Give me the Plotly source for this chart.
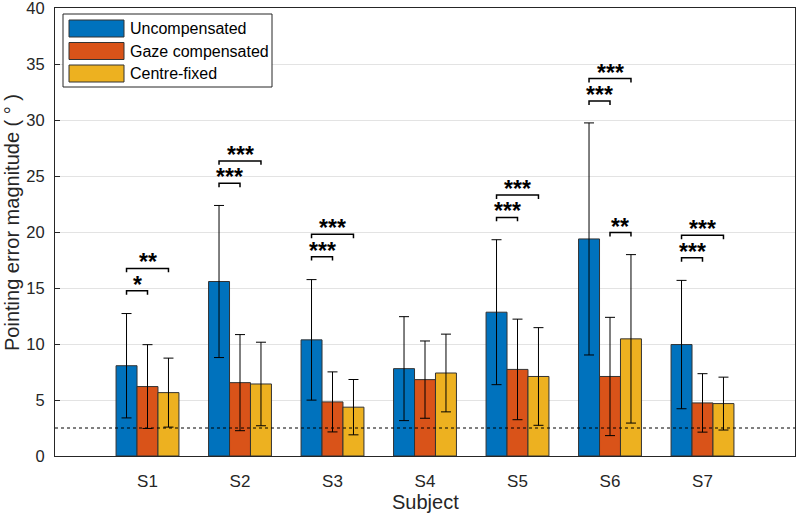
import plotly.graph_objects as go

subjects = ["S1", "S2", "S3", "S4", "S5", "S6", "S7"]
series_names = ["Uncompensated", "Gaze compensated", "Centre-fixed"]
colors = ["#0072BD", "#D95319", "#EDB120"]

uncomp_mean = [8.06, 15.58, 10.37, 7.80, 12.84, 19.38, 9.95]
uncomp_sd = [4.66, 6.79, 5.38, 4.64, 6.47, 10.36, 5.73]
gaze_mean = [6.20, 6.55, 4.83, 6.82, 7.73, 7.10, 4.74]
gaze_sd = [3.74, 4.29, 2.68, 3.45, 4.49, 5.28, 2.61]
centre_mean = [5.66, 6.43, 4.36, 7.41, 7.10, 10.46, 4.68]
centre_sd = [3.08, 3.73, 2.47, 3.47, 4.36, 7.52, 2.36]

# significance: (subject index, bar a, bar b, bracket level, label)
sig_subject = [0, 0, 1, 1, 2, 2, 4, 4, 5, 5, 5, 6, 6]
sig_a = [0, 0, 0, 0, 0, 0, 0, 0, 0, 0, 1, 0, 0]
sig_b = [1, 2, 1, 2, 1, 2, 1, 2, 1, 2, 2, 1, 2]
sig_level = [14.75, 16.75, 24.35, 26.35, 17.8, 19.8, 21.3, 23.3, 31.7, 33.7, 19.95, 17.7, 19.7]
sig_label = ["*", "**", "***", "***", "***", "***", "***", "***", "***", "***", "**", "***", "***"]

chance_level = 2.5
y_ticks = [0, 5, 10, 15, 20, 25, 30, 35, 40]

means = [uncomp_mean, gaze_mean, centre_mean]
sds = [uncomp_sd, gaze_sd, centre_sd]
xpos = list(range(1, len(subjects) + 1))

bargap = 0.32
bw = (1 - bargap) / 3
offsets = [-bw, 0, bw]

FONT = "Liberation Sans, Arial"
TOP = 8
BOTTOM_PX = 456

fig = go.Figure()
for k in range(3):
    fig.add_trace(go.Bar(
        x=xpos, y=means[k], name=series_names[k],
        marker=dict(color=colors[k], line=dict(color="#333333", width=1)),
        error_y=dict(type="data", array=sds[k], visible=True, color="black",
                     thickness=1, width=5),
        showlegend=False,
    ))

shapes = []
annotations = []
# chance line
shapes.append(dict(type="line", xref="paper", yref="y", x0=0, x1=1,
                   y0=chance_level, y1=chance_level,
                   line=dict(color="black", width=1, dash="dot")))
tick = 0.35
for s, a, b, lv, lab in zip(sig_subject, sig_a, sig_b, sig_level, sig_label):
    xa = xpos[s] + offsets[a]
    xb = xpos[s] + offsets[b]
    path = f"M {xa},{lv - tick} L {xa},{lv} L {xb},{lv} L {xb},{lv - tick}"
    shapes.append(dict(type="path", xref="x", yref="y", path=path,
                       line=dict(color="black", width=1.5)))
    annotations.append(dict(x=(xa + xb) / 2, y=lv, xref="x", yref="y",
                            text="<b>" + lab + "</b>", showarrow=False,
                            yanchor="bottom", yshift=-9,
                            font=dict(size=23, color="black", family=FONT)))

# manual legend (paper coordinates)
def px2x(p):
    return (p - 55) / 740.0

def py2y(p):
    return (BOTTOM_PX - p) / float(BOTTOM_PX - TOP)

shapes.append(dict(type="rect", xref="paper", yref="paper",
                   x0=px2x(63), x1=px2x(272), y0=py2y(87), y1=py2y(14),
                   line=dict(color="#262626", width=1), fillcolor="white",
                   layer="above"))
row_tops = [20, 42.5, 65]
for k in range(3):
    t = row_tops[k]
    shapes.append(dict(type="rect", xref="paper", yref="paper",
                       x0=px2x(69), x1=px2x(124), y0=py2y(t + 17), y1=py2y(t),
                       line=dict(color="#333333", width=1),
                       fillcolor=colors[k], layer="above"))
    annotations.append(dict(x=px2x(128), y=py2y(t + 8.5), xref="paper",
                            yref="paper", text=series_names[k],
                            showarrow=False, xanchor="left", yanchor="middle",
                            font=dict(size=16, color="black", family=FONT)))

# axis titles
annotations.append(dict(x=0.5, y=py2y(502), xref="paper", yref="paper",
                        text="Subject", showarrow=False, yanchor="middle",
                        font=dict(size=20, color="#262626", family=FONT)))
annotations.append(dict(x=px2x(12), y=py2y(223), xref="paper", yref="paper",
                        text="Pointing error magnitude ( ° )", showarrow=False,
                        textangle=-90, xanchor="center", yanchor="middle",
                        font=dict(size=20, color="#262626", family=FONT)))

fig.update_layout(
    width=796, height=515,
    margin=dict(l=55, r=1, t=TOP, b=515 - BOTTOM_PX, autoexpand=False),
    paper_bgcolor="white", plot_bgcolor="white",
    barmode="group", bargap=bargap, bargroupgap=0,
    shapes=shapes, annotations=annotations,
    font=dict(family=FONT, size=16, color="#262626"),
    showlegend=False,
)
fig.update_xaxes(range=[0, 8], tickvals=xpos, ticktext=subjects,
                 showline=True, mirror=True, linecolor="#262626", linewidth=1,
                 showgrid=False, zeroline=False, ticks="", automargin=False,
                 ticklabelstandoff=10,
                 tickfont=dict(size=17, color="#262626"))
fig.update_yaxes(range=[0, 40.0001], tickvals=y_ticks,
                 showline=True, mirror=True, linecolor="#262626", linewidth=1,
                 showgrid=True, gridcolor="#E3E3E3", gridwidth=1,
                 zeroline=False, ticks="inside", ticklen=5, automargin=False,
                 tickcolor="#262626", ticklabelstandoff=6,
                 ticklabeloverflow="allow",
                 tickfont=dict(size=16.5, color="#262626"))

fig.write_html(
    "out.html",
    config={"displayModeBar": False},
    post_script="document.body.style.margin='0';document.body.style.overflow='hidden';",
)
